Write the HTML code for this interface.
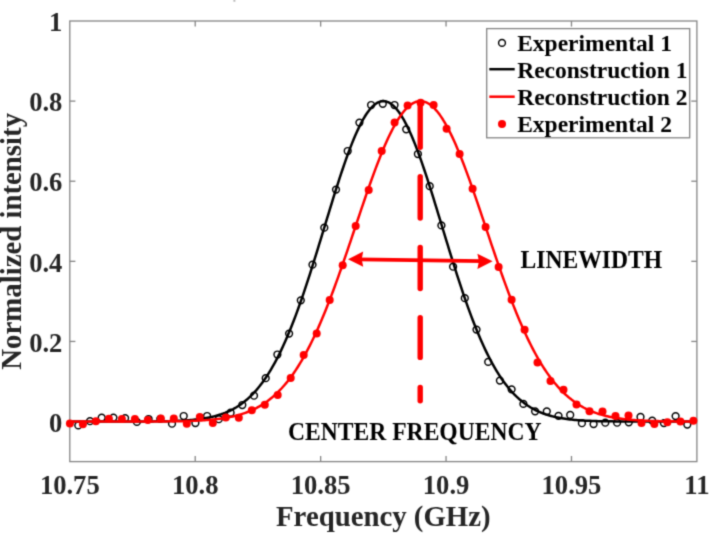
<!DOCTYPE html>
<html><head><meta charset="utf-8"><style>
html,body{margin:0;padding:0;background:#fff;width:709px;height:534px;overflow:hidden;font-family:"Liberation Serif",serif;}
svg{display:block}
</style></head><body>
<svg width="709" height="534" viewBox="0 0 709 534">
<defs><filter id="bl" x="0" y="0" width="709" height="534" filterUnits="userSpaceOnUse" color-interpolation-filters="sRGB"><feConvolveMatrix order="3" kernelMatrix="1 4 1 4 16 4 1 4 1" edgeMode="duplicate"/></filter></defs>
<g filter="url(#bl)"><rect width="709" height="534" fill="#fff"/>
<rect x="233.4" y="0" width="2" height="1.8" fill="#bdbdbd"/>
<g stroke="#858585" stroke-width="1.3" fill="none">
<rect x="69.8" y="21.0" width="627.10" height="440.60"/>
<line x1="195.22" y1="461.6" x2="195.22" y2="456.0"/>
<line x1="195.22" y1="21.0" x2="195.22" y2="26.6"/>
<line x1="320.64" y1="461.6" x2="320.64" y2="456.0"/>
<line x1="320.64" y1="21.0" x2="320.64" y2="26.6"/>
<line x1="446.06" y1="461.6" x2="446.06" y2="456.0"/>
<line x1="446.06" y1="21.0" x2="446.06" y2="26.6"/>
<line x1="571.48" y1="461.6" x2="571.48" y2="456.0"/>
<line x1="571.48" y1="21.0" x2="571.48" y2="26.6"/>
<line x1="69.8" y1="421.55" x2="75.39999999999999" y2="421.55"/>
<line x1="696.9" y1="421.55" x2="691.3" y2="421.55"/>
<line x1="69.8" y1="341.44" x2="75.39999999999999" y2="341.44"/>
<line x1="696.9" y1="341.44" x2="691.3" y2="341.44"/>
<line x1="69.8" y1="261.33" x2="75.39999999999999" y2="261.33"/>
<line x1="696.9" y1="261.33" x2="691.3" y2="261.33"/>
<line x1="69.8" y1="181.22" x2="75.39999999999999" y2="181.22"/>
<line x1="696.9" y1="181.22" x2="691.3" y2="181.22"/>
<line x1="69.8" y1="101.11" x2="75.39999999999999" y2="101.11"/>
<line x1="696.9" y1="101.11" x2="691.3" y2="101.11"/>
</g>
<g font-family="Liberation Serif" font-weight="bold" font-size="26.6" fill="#262626" text-anchor="middle">
<text x="69.80" y="493.6">10.75</text>
<text x="195.22" y="493.6">10.8</text>
<text x="320.64" y="493.6">10.85</text>
<text x="446.06" y="493.6">10.9</text>
<text x="571.48" y="493.6">10.95</text>
<text x="696.90" y="493.6">11</text>
</g>
<g font-family="Liberation Serif" font-weight="bold" font-size="26.6" fill="#262626" text-anchor="end">
<text x="62.4" y="432">0</text>
<text x="62.4" y="352">0.2</text>
<text x="62.4" y="272">0.4</text>
<text x="62.4" y="191">0.6</text>
<text x="62.4" y="111">0.8</text>
<text x="62.4" y="31">1</text>
</g>
<text font-family="Liberation Serif" font-weight="bold" font-size="28.8" fill="#262626" text-anchor="middle" x="383.35" y="526.0">Frequency (GHz)</text>
<text font-family="Liberation Serif" font-weight="bold" font-size="28.8" fill="#262626" text-anchor="middle" transform="translate(21.4,241.30) rotate(-90)">Normalized intensity</text>
<g>
<g fill="none" stroke="#000" stroke-width="1.45">
<circle cx="78.3" cy="425.4" r="3.4"/>
<circle cx="90.0" cy="421.2" r="3.4"/>
<circle cx="101.7" cy="417.6" r="3.4"/>
<circle cx="113.4" cy="417.6" r="3.4"/>
<circle cx="125.1" cy="418.1" r="3.4"/>
<circle cx="136.9" cy="421.9" r="3.4"/>
<circle cx="148.6" cy="419.0" r="3.4"/>
<circle cx="160.3" cy="418.8" r="3.4"/>
<circle cx="172.0" cy="423.7" r="3.4"/>
<circle cx="183.7" cy="416.0" r="3.4"/>
<circle cx="195.4" cy="423.0" r="3.4"/>
<circle cx="207.1" cy="416.0" r="3.4"/>
<circle cx="218.8" cy="419.2" r="3.4"/>
<circle cx="230.6" cy="412.7" r="3.4"/>
<circle cx="242.3" cy="405.0" r="3.4"/>
<circle cx="254.0" cy="395.7" r="3.4"/>
<circle cx="265.7" cy="378.2" r="3.4"/>
<circle cx="277.4" cy="354.5" r="3.4"/>
<circle cx="289.1" cy="333.6" r="3.4"/>
<circle cx="300.8" cy="300.3" r="3.4"/>
<circle cx="312.5" cy="264.7" r="3.4"/>
<circle cx="324.3" cy="227.7" r="3.4"/>
<circle cx="336.0" cy="189.6" r="3.4"/>
<circle cx="347.7" cy="151.0" r="3.4"/>
<circle cx="359.4" cy="122.6" r="3.4"/>
<circle cx="371.1" cy="105.0" r="3.4"/>
<circle cx="382.8" cy="103.8" r="3.4"/>
<circle cx="394.5" cy="105.0" r="3.4"/>
<circle cx="406.2" cy="129.3" r="3.4"/>
<circle cx="417.9" cy="154.0" r="3.4"/>
<circle cx="429.7" cy="186.2" r="3.4"/>
<circle cx="441.4" cy="225.4" r="3.4"/>
<circle cx="453.1" cy="266.7" r="3.4"/>
<circle cx="464.8" cy="298.2" r="3.4"/>
<circle cx="476.5" cy="329.6" r="3.4"/>
<circle cx="488.2" cy="361.9" r="3.4"/>
<circle cx="499.9" cy="380.6" r="3.4"/>
<circle cx="511.6" cy="389.3" r="3.4"/>
<circle cx="523.4" cy="403.9" r="3.4"/>
<circle cx="535.1" cy="411.3" r="3.4"/>
<circle cx="546.8" cy="411.3" r="3.4"/>
<circle cx="558.5" cy="415.8" r="3.4"/>
<circle cx="570.2" cy="414.9" r="3.4"/>
<circle cx="581.9" cy="423.2" r="3.4"/>
<circle cx="593.6" cy="424.1" r="3.4"/>
<circle cx="605.3" cy="422.7" r="3.4"/>
<circle cx="617.1" cy="422.7" r="3.4"/>
<circle cx="628.8" cy="422.3" r="3.4"/>
<circle cx="640.5" cy="416.9" r="3.4"/>
<circle cx="652.2" cy="420.7" r="3.4"/>
<circle cx="663.9" cy="423.1" r="3.4"/>
<circle cx="675.6" cy="416.1" r="3.4"/>
<circle cx="687.3" cy="424.6" r="3.4"/>
</g>
<polyline fill="none" stroke="#000" stroke-width="2.5" stroke-linejoin="round" points="69.80,421.55 71.37,421.55 72.94,421.55 74.50,421.55 76.07,421.55 77.64,421.54 79.21,421.54 80.77,421.54 82.34,421.54 83.91,421.54 85.48,421.54 87.05,421.54 88.61,421.54 90.18,421.54 91.75,421.54 93.32,421.54 94.88,421.54 96.45,421.54 98.02,421.54 99.59,421.54 101.15,421.54 102.72,421.54 104.29,421.54 105.86,421.54 107.43,421.54 108.99,421.54 110.56,421.54 112.13,421.54 113.70,421.54 115.26,421.54 116.83,421.53 118.40,421.53 119.97,421.53 121.54,421.53 123.10,421.53 124.67,421.52 126.24,421.52 127.81,421.52 129.37,421.52 130.94,421.51 132.51,421.51 134.08,421.50 135.65,421.50 137.21,421.49 138.78,421.49 140.35,421.48 141.92,421.47 143.48,421.46 145.05,421.45 146.62,421.44 148.19,421.43 149.76,421.42 151.32,421.41 152.89,421.39 154.46,421.37 156.03,421.36 157.59,421.34 159.16,421.31 160.73,421.29 162.30,421.26 163.86,421.23 165.43,421.20 167.00,421.16 168.57,421.13 170.14,421.08 171.70,421.04 173.27,420.99 174.84,420.93 176.41,420.87 177.97,420.80 179.54,420.73 181.11,420.65 182.68,420.57 184.25,420.48 185.81,420.38 187.38,420.27 188.95,420.15 190.52,420.02 192.08,419.89 193.65,419.74 195.22,419.58 196.79,419.40 198.36,419.22 199.92,419.02 201.49,418.80 203.06,418.56 204.63,418.31 206.19,418.04 207.76,417.75 209.33,417.44 210.90,417.11 212.47,416.75 214.03,416.37 215.60,415.96 217.17,415.52 218.74,415.05 220.30,414.56 221.87,414.02 223.44,413.46 225.01,412.86 226.57,412.22 228.14,411.54 229.71,410.82 231.28,410.05 232.85,409.24 234.41,408.38 235.98,407.47 237.55,406.50 239.12,405.49 240.68,404.41 242.25,403.28 243.82,402.09 245.39,400.83 246.96,399.51 248.52,398.12 250.09,396.66 251.66,395.12 253.23,393.52 254.79,391.83 256.36,390.07 257.93,388.22 259.50,386.30 261.07,384.28 262.63,382.18 264.20,380.00 265.77,377.72 267.34,375.34 268.90,372.88 270.47,370.32 272.04,367.66 273.61,364.91 275.18,362.05 276.74,359.10 278.31,356.04 279.88,352.89 281.45,349.63 283.01,346.28 284.58,342.82 286.15,339.26 287.72,335.60 289.29,331.84 290.85,327.99 292.42,324.04 293.99,319.99 295.56,315.85 297.12,311.62 298.69,307.30 300.26,302.89 301.83,298.40 303.39,293.83 304.96,289.19 306.53,284.47 308.10,279.69 309.67,274.84 311.23,269.93 312.80,264.97 314.37,259.97 315.94,254.92 317.50,249.83 319.07,244.72 320.64,239.58 322.21,234.42 323.78,229.26 325.34,224.09 326.91,218.93 328.48,213.77 330.05,208.64 331.61,203.54 333.18,198.47 334.75,193.44 336.32,188.47 337.89,183.55 339.45,178.70 341.02,173.93 342.59,169.25 344.16,164.66 345.72,160.17 347.29,155.79 348.86,151.52 350.43,147.38 352.00,143.38 353.56,139.52 355.13,135.80 356.70,132.24 358.27,128.85 359.83,125.62 361.40,122.57 362.97,119.70 364.54,117.02 366.10,114.53 367.67,112.24 369.24,110.16 370.81,108.28 372.38,106.61 373.94,105.16 375.51,103.93 377.08,102.92 378.65,102.13 380.21,101.56 381.78,101.22 383.35,101.11 384.92,101.22 386.49,101.56 388.05,102.13 389.62,102.92 391.19,103.93 392.76,105.16 394.32,106.61 395.89,108.28 397.46,110.16 399.03,112.24 400.60,114.53 402.16,117.02 403.73,119.70 405.30,122.57 406.87,125.62 408.43,128.85 410.00,132.24 411.57,135.80 413.14,139.52 414.70,143.38 416.27,147.38 417.84,151.52 419.41,155.79 420.98,160.17 422.54,164.66 424.11,169.25 425.68,173.93 427.25,178.70 428.81,183.55 430.38,188.47 431.95,193.44 433.52,198.47 435.09,203.54 436.65,208.64 438.22,213.77 439.79,218.93 441.36,224.09 442.92,229.26 444.49,234.42 446.06,239.58 447.63,244.72 449.20,249.83 450.76,254.92 452.33,259.97 453.90,264.97 455.47,269.93 457.03,274.84 458.60,279.69 460.17,284.47 461.74,289.19 463.31,293.83 464.87,298.40 466.44,302.89 468.01,307.30 469.58,311.62 471.14,315.85 472.71,319.99 474.28,324.04 475.85,327.99 477.41,331.84 478.98,335.60 480.55,339.26 482.12,342.82 483.69,346.28 485.25,349.63 486.82,352.89 488.39,356.04 489.96,359.10 491.52,362.05 493.09,364.91 494.66,367.66 496.23,370.32 497.80,372.88 499.36,375.34 500.93,377.72 502.50,380.00 504.07,382.18 505.63,384.28 507.20,386.30 508.77,388.22 510.34,390.07 511.91,391.83 513.47,393.52 515.04,395.12 516.61,396.66 518.18,398.12 519.74,399.51 521.31,400.83 522.88,402.09 524.45,403.28 526.02,404.41 527.58,405.49 529.15,406.50 530.72,407.47 532.29,408.38 533.85,409.24 535.42,410.05 536.99,410.82 538.56,411.54 540.12,412.22 541.69,412.86 543.26,413.46 544.83,414.02 546.40,414.56 547.96,415.05 549.53,415.52 551.10,415.96 552.67,416.37 554.23,416.75 555.80,417.11 557.37,417.44 558.94,417.75 560.51,418.04 562.07,418.31 563.64,418.56 565.21,418.80 566.78,419.02 568.34,419.22 569.91,419.40 571.48,419.58 573.05,419.74 574.62,419.89 576.18,420.02 577.75,420.15 579.32,420.27 580.89,420.38 582.45,420.48 584.02,420.57 585.59,420.65 587.16,420.73 588.73,420.80 590.29,420.87 591.86,420.93 593.43,420.99 595.00,421.04 596.56,421.08 598.13,421.13 599.70,421.16 601.27,421.20 602.84,421.23 604.40,421.26 605.97,421.29 607.54,421.31 609.11,421.34 610.67,421.36 612.24,421.37 613.81,421.39 615.38,421.41 616.94,421.42 618.51,421.43 620.08,421.44 621.65,421.45 623.22,421.46 624.78,421.47 626.35,421.48 627.92,421.49 629.49,421.49 631.05,421.50 632.62,421.50 634.19,421.51 635.76,421.51 637.33,421.52 638.89,421.52 640.46,421.52 642.03,421.52 643.60,421.53 645.16,421.53 646.73,421.53 648.30,421.53 649.87,421.53 651.44,421.54 653.00,421.54 654.57,421.54 656.14,421.54 657.71,421.54 659.27,421.54 660.84,421.54 662.41,421.54 663.98,421.54 665.55,421.54 667.11,421.54 668.68,421.54 670.25,421.54 671.82,421.54 673.38,421.54 674.95,421.54 676.52,421.54 678.09,421.54 679.65,421.54 681.22,421.54 682.79,421.54 684.36,421.54 685.93,421.54 687.49,421.54 689.06,421.54 690.63,421.55 692.20,421.55 693.76,421.55 695.33,421.55 696.90,421.55"/>
<polyline fill="none" stroke="#f00" stroke-width="2.5" stroke-linejoin="round" points="69.80,421.55 71.37,421.55 72.94,421.55 74.50,421.55 76.07,421.55 77.64,421.55 79.21,421.55 80.77,421.55 82.34,421.54 83.91,421.54 85.48,421.54 87.05,421.54 88.61,421.54 90.18,421.54 91.75,421.54 93.32,421.54 94.88,421.54 96.45,421.54 98.02,421.54 99.59,421.54 101.15,421.54 102.72,421.54 104.29,421.54 105.86,421.54 107.43,421.54 108.99,421.54 110.56,421.54 112.13,421.54 113.70,421.54 115.26,421.54 116.83,421.54 118.40,421.54 119.97,421.54 121.54,421.54 123.10,421.54 124.67,421.53 126.24,421.53 127.81,421.53 129.37,421.53 130.94,421.53 132.51,421.53 134.08,421.52 135.65,421.52 137.21,421.52 138.78,421.52 140.35,421.51 141.92,421.51 143.48,421.51 145.05,421.50 146.62,421.50 148.19,421.49 149.76,421.49 151.32,421.48 152.89,421.47 154.46,421.47 156.03,421.46 157.59,421.45 159.16,421.44 160.73,421.43 162.30,421.42 163.86,421.41 165.43,421.39 167.00,421.38 168.57,421.36 170.14,421.34 171.70,421.32 173.27,421.30 174.84,421.28 176.41,421.25 177.97,421.23 179.54,421.20 181.11,421.16 182.68,421.13 184.25,421.09 185.81,421.05 187.38,421.01 188.95,420.96 190.52,420.91 192.08,420.85 193.65,420.79 195.22,420.72 196.79,420.65 198.36,420.57 199.92,420.49 201.49,420.40 203.06,420.31 204.63,420.21 206.19,420.09 207.76,419.98 209.33,419.85 210.90,419.71 212.47,419.56 214.03,419.41 215.60,419.24 217.17,419.06 218.74,418.87 220.30,418.66 221.87,418.44 223.44,418.21 225.01,417.95 226.57,417.69 228.14,417.40 229.71,417.10 231.28,416.78 232.85,416.43 234.41,416.07 235.98,415.68 237.55,415.27 239.12,414.84 240.68,414.38 242.25,413.89 243.82,413.37 245.39,412.82 246.96,412.24 248.52,411.63 250.09,410.99 251.66,410.30 253.23,409.59 254.79,408.83 256.36,408.03 257.93,407.19 259.50,406.31 261.07,405.39 262.63,404.41 264.20,403.39 265.77,402.32 267.34,401.20 268.90,400.02 270.47,398.79 272.04,397.51 273.61,396.16 275.18,394.76 276.74,393.29 278.31,391.76 279.88,390.17 281.45,388.51 283.01,386.78 284.58,384.99 286.15,383.12 287.72,381.18 289.29,379.17 290.85,377.08 292.42,374.92 293.99,372.68 295.56,370.37 297.12,367.97 298.69,365.49 300.26,362.94 301.83,360.30 303.39,357.58 304.96,354.78 306.53,351.90 308.10,348.93 309.67,345.88 311.23,342.75 312.80,339.54 314.37,336.24 315.94,332.86 317.50,329.41 319.07,325.87 320.64,322.25 322.21,318.56 323.78,314.79 325.34,310.95 326.91,307.04 328.48,303.06 330.05,299.01 331.61,294.89 333.18,290.71 334.75,286.47 336.32,282.17 337.89,277.83 339.45,273.43 341.02,268.98 342.59,264.49 344.16,259.96 345.72,255.40 347.29,250.81 348.86,246.19 350.43,241.55 352.00,236.90 353.56,232.24 355.13,227.56 356.70,222.89 358.27,218.23 359.83,213.57 361.40,208.93 362.97,204.31 364.54,199.73 366.10,195.17 367.67,190.65 369.24,186.19 370.81,181.77 372.38,177.41 373.94,173.11 375.51,168.89 377.08,164.74 378.65,160.68 380.21,156.70 381.78,152.82 383.35,149.04 384.92,145.36 386.49,141.80 388.05,138.35 389.62,135.03 391.19,131.84 392.76,128.78 394.32,125.86 395.89,123.08 397.46,120.45 399.03,117.97 400.60,115.65 402.16,113.49 403.73,111.50 405.30,109.67 406.87,108.01 408.43,106.52 410.00,105.21 411.57,104.08 413.14,103.13 414.70,102.36 416.27,101.77 417.84,101.37 419.41,101.15 420.98,101.12 422.54,101.27 424.11,101.61 425.68,102.13 427.25,102.83 428.81,103.72 430.38,104.79 431.95,106.03 433.52,107.45 435.09,109.05 436.65,110.82 438.22,112.76 439.79,114.86 441.36,117.12 442.92,119.54 444.49,122.12 446.06,124.84 447.63,127.71 449.20,130.72 450.76,133.87 452.33,137.14 453.90,140.55 455.47,144.07 457.03,147.70 458.60,151.44 460.17,155.29 461.74,159.23 463.31,163.27 464.87,167.39 466.44,171.58 468.01,175.85 469.58,180.19 471.14,184.59 472.71,189.04 474.28,193.54 475.85,198.08 477.41,202.66 478.98,207.27 480.55,211.90 482.12,216.55 483.69,221.21 485.25,225.88 486.82,230.55 488.39,235.22 489.96,239.88 491.52,244.53 493.09,249.15 494.66,253.75 496.23,258.33 497.80,262.87 499.36,267.37 500.93,271.83 502.50,276.25 504.07,280.61 505.63,284.93 507.20,289.19 508.77,293.39 510.34,297.53 511.91,301.61 513.47,305.61 515.04,309.55 516.61,313.42 518.18,317.21 519.74,320.93 521.31,324.58 522.88,328.14 524.45,331.63 526.02,335.03 527.58,338.36 529.15,341.60 530.72,344.76 532.29,347.84 533.85,350.84 535.42,353.75 536.99,356.58 538.56,359.33 540.12,362.00 541.69,364.58 543.26,367.09 544.83,369.51 546.40,371.86 547.96,374.13 549.53,376.32 551.10,378.43 552.67,380.47 554.23,382.43 555.80,384.32 557.37,386.15 558.94,387.90 560.51,389.58 562.07,391.20 563.64,392.75 565.21,394.24 566.78,395.66 568.34,397.03 569.91,398.34 571.48,399.59 573.05,400.78 574.62,401.92 576.18,403.01 577.75,404.05 579.32,405.04 580.89,405.98 582.45,406.88 584.02,407.74 585.59,408.55 587.16,409.32 588.73,410.05 590.29,410.74 591.86,411.40 593.43,412.03 595.00,412.62 596.56,413.18 598.13,413.70 599.70,414.20 601.27,414.67 602.84,415.12 604.40,415.54 605.97,415.93 607.54,416.31 609.11,416.66 610.67,416.99 612.24,417.30 613.81,417.59 615.38,417.86 616.94,418.12 618.51,418.36 620.08,418.58 621.65,418.79 623.22,418.99 624.78,419.18 626.35,419.35 627.92,419.51 629.49,419.66 631.05,419.80 632.62,419.93 634.19,420.05 635.76,420.17 637.33,420.27 638.89,420.37 640.46,420.46 642.03,420.55 643.60,420.62 645.16,420.70 646.73,420.77 648.30,420.83 649.87,420.89 651.44,420.94 653.00,420.99 654.57,421.03 656.14,421.08 657.71,421.12 659.27,421.15 660.84,421.19 662.41,421.22 663.98,421.24 665.55,421.27 667.11,421.29 668.68,421.32 670.25,421.34 671.82,421.35 673.38,421.37 674.95,421.39 676.52,421.40 678.09,421.41 679.65,421.43 681.22,421.44 682.79,421.45 684.36,421.46 685.93,421.46 687.49,421.47 689.06,421.48 690.63,421.49 692.20,421.49 693.76,421.50 695.33,421.50 696.90,421.51"/>
<g fill="#f00">
<circle cx="69.9" cy="423.5" r="4.0"/>
<circle cx="82.9" cy="424.3" r="4.0"/>
<circle cx="95.9" cy="421.2" r="4.0"/>
<circle cx="108.9" cy="418.8" r="4.0"/>
<circle cx="121.9" cy="419.0" r="4.0"/>
<circle cx="134.9" cy="419.1" r="4.0"/>
<circle cx="147.8" cy="420.1" r="4.0"/>
<circle cx="160.8" cy="418.6" r="4.0"/>
<circle cx="173.8" cy="418.5" r="4.0"/>
<circle cx="186.8" cy="423.7" r="4.0"/>
<circle cx="199.8" cy="417.0" r="4.0"/>
<circle cx="212.8" cy="423.0" r="4.0"/>
<circle cx="225.8" cy="417.4" r="4.0"/>
<circle cx="238.8" cy="417.8" r="4.0"/>
<circle cx="251.8" cy="410.3" r="4.0"/>
<circle cx="264.8" cy="404.7" r="4.0"/>
<circle cx="277.7" cy="395.1" r="4.0"/>
<circle cx="290.7" cy="378.0" r="4.0"/>
<circle cx="303.7" cy="355.0" r="4.0"/>
<circle cx="316.7" cy="333.4" r="4.0"/>
<circle cx="329.7" cy="299.9" r="4.0"/>
<circle cx="342.7" cy="265.3" r="4.0"/>
<circle cx="355.7" cy="225.9" r="4.0"/>
<circle cx="368.7" cy="190.1" r="4.0"/>
<circle cx="381.7" cy="151.0" r="4.0"/>
<circle cx="394.6" cy="122.6" r="4.0"/>
<circle cx="407.6" cy="105.5" r="4.0"/>
<circle cx="420.6" cy="102.8" r="4.0"/>
<circle cx="433.6" cy="105.0" r="4.0"/>
<circle cx="446.6" cy="128.7" r="4.0"/>
<circle cx="459.6" cy="153.9" r="4.0"/>
<circle cx="472.6" cy="188.7" r="4.0"/>
<circle cx="485.6" cy="226.9" r="4.0"/>
<circle cx="498.6" cy="266.9" r="4.0"/>
<circle cx="511.6" cy="299.8" r="4.0"/>
<circle cx="524.6" cy="329.8" r="4.0"/>
<circle cx="537.5" cy="362.5" r="4.0"/>
<circle cx="550.5" cy="381.0" r="4.0"/>
<circle cx="563.5" cy="389.8" r="4.0"/>
<circle cx="576.5" cy="404.5" r="4.0"/>
<circle cx="589.5" cy="411.3" r="4.0"/>
<circle cx="602.5" cy="411.6" r="4.0"/>
<circle cx="615.5" cy="416.0" r="4.0"/>
<circle cx="628.5" cy="415.4" r="4.0"/>
<circle cx="641.5" cy="423.1" r="4.0"/>
<circle cx="654.4" cy="424.1" r="4.0"/>
<circle cx="667.4" cy="422.3" r="4.0"/>
<circle cx="680.4" cy="421.5" r="4.0"/>
<circle cx="693.4" cy="420.7" r="4.0"/>
</g>
</g>
<g stroke="#f00" stroke-width="5.4" stroke-linecap="round">
<line x1="420.2" y1="103.7" x2="420.2" y2="147.3"/>
<line x1="420.2" y1="176.7" x2="420.2" y2="218.0"/>
<line x1="420.2" y1="247.4" x2="420.2" y2="288.5"/>
<line x1="420.2" y1="317.8" x2="420.2" y2="357.4"/>
<line x1="420.2" y1="387.5" x2="420.2" y2="400.7"/>
</g>
<line x1="358.0" y1="259.35" x2="482.6" y2="261.15" stroke="#f00" stroke-width="3.6"/>
<path fill="#f00" d="M348.0,259.2 L363.2,251.6 L361.7,259.2 L363.2,266.8 Z"/>
<path fill="#f00" d="M492.6,261.3 L477.40000000000003,253.70000000000002 L478.90000000000003,261.3 L477.40000000000003,268.90000000000003 Z"/>
<text font-family="Liberation Serif" font-weight="bold" font-size="23.6" fill="#000" transform="translate(520.5,267.7) scale(1,1.04)">LINEWIDTH</text>
<text font-family="Liberation Serif" font-weight="bold" font-size="23.6" fill="#000" transform="translate(288.0,439.6) scale(1,1.04)">CENTER FREQUENCY</text>
<rect x="486.7" y="28.6" width="203.0" height="109.2" fill="#fff" stroke="#858585" stroke-width="1.3"/>
<text font-family="Liberation Serif" font-weight="bold" font-size="23.5" fill="#000" x="517.2" y="50.6">Experimental 1</text>
<text font-family="Liberation Serif" font-weight="bold" font-size="23.5" fill="#000" x="517.2" y="77.8">Reconstruction 1</text>
<text font-family="Liberation Serif" font-weight="bold" font-size="23.5" fill="#000" x="517.2" y="104.9">Reconstruction 2</text>
<text font-family="Liberation Serif" font-weight="bold" font-size="23.5" fill="#000" x="517.2" y="132.1">Experimental 2</text>
<circle cx="502" cy="42.9" r="3.4" fill="none" stroke="#000" stroke-width="1.45"/>
<line x1="489.3" y1="69.2" x2="514.7" y2="69.2" stroke="#000" stroke-width="2.5"/>
<line x1="489.3" y1="96.7" x2="514.7" y2="96.7" stroke="#f00" stroke-width="2.5"/>
<circle cx="502" cy="124.0" r="4.0" fill="#f00"/>
</g></svg>
</body></html>
